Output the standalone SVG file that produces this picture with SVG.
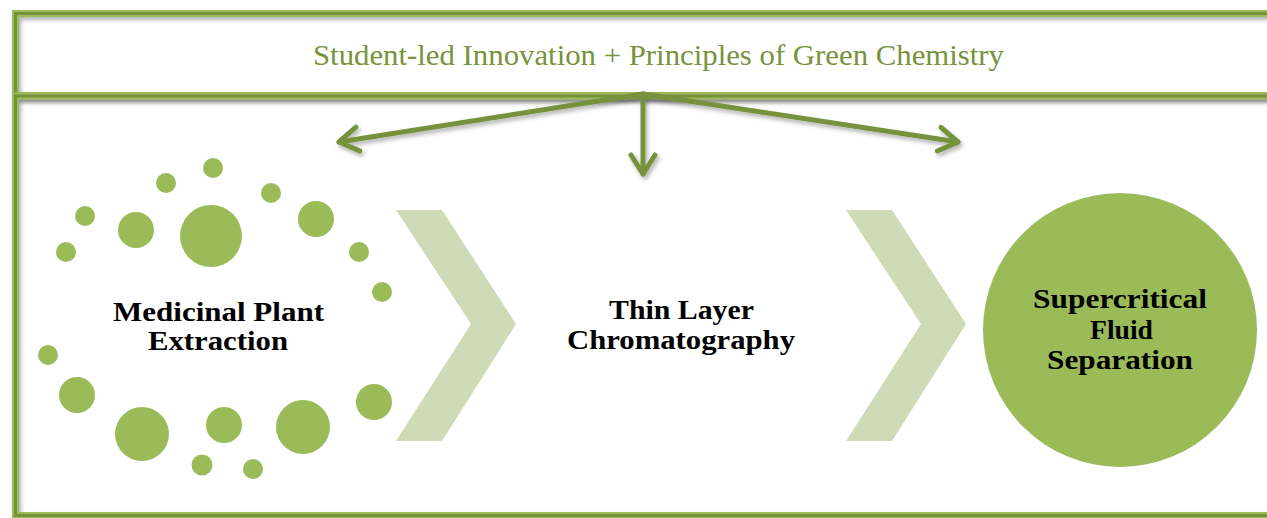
<svg xmlns="http://www.w3.org/2000/svg" width="1267" height="518" viewBox="0 0 1267 518">
  <defs>
    <style>
      .frame-outer { fill: none; stroke: #9bbb59; stroke-width: 7; }
      .frame-inner { fill: none; stroke: #76923c; stroke-width: 3; }
      .dot { fill: #9bbb59; }
      .chev { fill: #cfdbb6; }
      .conn { fill: none; stroke: #76923c; stroke-width: 5; stroke-linecap: round; marker-end: url(#chevHead); }
      .title { font-family: "Liberation Serif", "DejaVu Serif", serif; font-size: 29px; fill: #77933c; }
      .label { font-family: "Liberation Serif", "DejaVu Serif", serif; font-size: 28px; font-weight: bold; fill: #000; text-anchor: middle; }
    </style>
    <filter id="softShadow" x="-5%" y="-5%" width="110%" height="120%">
      <feDropShadow dx="2" dy="3" stdDeviation="2" flood-color="#000" flood-opacity="0.3"/>
    </filter>
    <marker id="chevHead" markerUnits="userSpaceOnUse" viewBox="-24 -16 30 32" refX="0" refY="0" markerWidth="30" markerHeight="32" orient="auto">
      <path d="M -19 -12 L 0 0 L -19 12" fill="none" stroke="#76923c" stroke-width="5" stroke-linecap="round" stroke-linejoin="round"/>
    </marker>
  </defs>

  <rect width="1267" height="518" fill="#fff"/>

  <!-- header band -->
  <g id="header">
    <rect class="frame-outer" x="15.5" y="13.5" width="1270" height="82" filter="url(#softShadow)"/>
    <rect class="frame-inner" x="15.5" y="13.5" width="1270" height="82"/>
    <text class="title" x="313" y="65" textLength="691" lengthAdjust="spacingAndGlyphs">Student-led Innovation + Principles of Green Chemistry</text>
  </g>

  <!-- lower panel -->
  <g id="panel">
    <rect class="frame-outer" x="15.5" y="96" width="1270" height="419.5" filter="url(#softShadow)"/>
    <rect class="frame-inner" x="15.5" y="96" width="1270" height="419.5"/>
  </g>

  <!-- connectors -->
  <g id="connectors" filter="url(#softShadow)">
    <line class="conn" x1="643" y1="94" x2="339" y2="142"/>
    <line class="conn" x1="643" y1="94" x2="643" y2="174"/>
    <line class="conn" x1="643" y1="94" x2="958" y2="142"/>
  </g>

  <!-- step 1: ring of dots -->
  <g id="node-extraction">
    <circle class="dot" cx="213" cy="168" r="10"/>
    <circle class="dot" cx="166" cy="183" r="10"/>
    <circle class="dot" cx="271" cy="193" r="10"/>
    <circle class="dot" cx="85" cy="216" r="10"/>
    <circle class="dot" cx="136" cy="230" r="18"/>
    <circle class="dot" cx="211" cy="236" r="31"/>
    <circle class="dot" cx="316" cy="219" r="18"/>
    <circle class="dot" cx="66" cy="252" r="10"/>
    <circle class="dot" cx="359" cy="252" r="10"/>
    <circle class="dot" cx="382" cy="292" r="10"/>
    <circle class="dot" cx="48" cy="355" r="10"/>
    <circle class="dot" cx="77" cy="395" r="18"/>
    <circle class="dot" cx="374" cy="402" r="18"/>
    <circle class="dot" cx="142" cy="434" r="27"/>
    <circle class="dot" cx="224" cy="425" r="18"/>
    <circle class="dot" cx="303" cy="427" r="27"/>
    <circle class="dot" cx="202" cy="465" r="10.5"/>
    <circle class="dot" cx="253" cy="469" r="10"/>
    <text class="label" x="218.5" y="321" textLength="211" lengthAdjust="spacingAndGlyphs">Medicinal Plant</text>
    <text class="label" x="218" y="350" textLength="140" lengthAdjust="spacingAndGlyphs">Extraction</text>
  </g>

  <!-- chevron separators -->
  <g id="chevron-1">
    <polygon class="chev" points="396,210 442,210 516,324 442,441 396,441 471,324"/>
  </g>

  <g id="node-tlc">
    <text class="label" x="681.5" y="319" textLength="145" lengthAdjust="spacingAndGlyphs">Thin Layer</text>
    <text class="label" x="681" y="349" textLength="228" lengthAdjust="spacingAndGlyphs">Chromatography</text>
  </g>

  <g id="chevron-2">
    <polygon class="chev" points="846,210 892,210 966,324 892,441 846,441 921,324"/>
  </g>

  <!-- step 3: filled circle -->
  <g id="node-sfs">
    <circle class="dot" cx="1120" cy="330" r="137"/>
    <text class="label" x="1120" y="308" textLength="174" lengthAdjust="spacingAndGlyphs">Supercritical</text>
    <text class="label" x="1121.5" y="339" textLength="63" lengthAdjust="spacingAndGlyphs">Fluid</text>
    <text class="label" x="1120" y="369" textLength="146" lengthAdjust="spacingAndGlyphs">Separation</text>
  </g>
</svg>
